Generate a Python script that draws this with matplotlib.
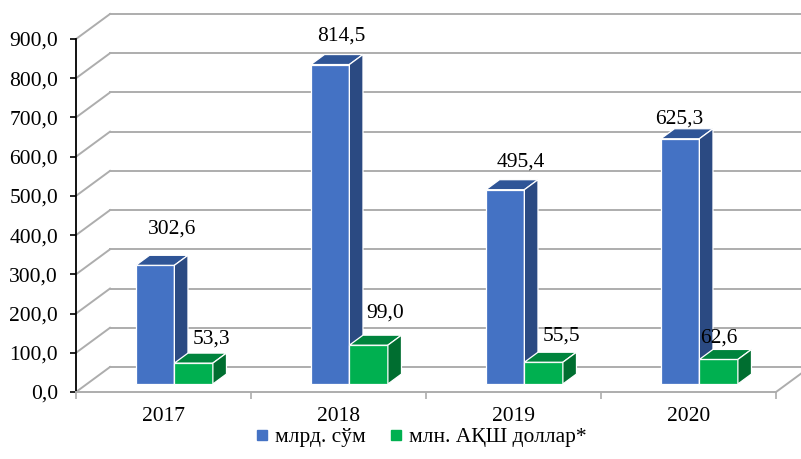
import matplotlib
matplotlib.use("Agg")
import matplotlib.pyplot as plt
from matplotlib.patches import Polygon
from matplotlib.lines import Line2D

# data
years = ["2017", "2018", "2019", "2020"]
som_bln = [302.6, 814.5, 495.4, 625.3]
usd_mln = [53.3, 99.0, 55.5, 62.6]
series_names = ["млрд. сўм", "млн. АҚШ доллар*"]
y_ticks = [0, 100, 200, 300, 400, 500, 600, 700, 800, 900]

# label nudges in pixels (dx, dy above front top)
som_label_off = [(17, 36), (11, 28), (16, 28), (-1, 20)]
usd_label_off = [(18, 24), (16, 32), (18, 26), (0, 21)]

plt.rcParams["font.family"] = ["Liberation Serif", "DejaVu Serif"]
FS = 15.5

W_PX, H_PX = 801, 459
fig = plt.figure(figsize=(W_PX / 100, H_PX / 100), dpi=100)
ax = fig.add_axes([76 / W_PX, (H_PX - 392) / H_PX, 700 / W_PX, 353 / H_PX])
ax.set_xlim(0, len(years))
ax.set_ylim(0, 900)

# pixel -> data scale
px_x = len(years) / 700.0
px_y = 900 / 353.0
DX = 34 * px_x          # full floor depth, x
DY = 25 * px_y          # full floor depth, y
D0, DD = 0.32, 0.40     # bar front depth and bar thickness (fractions)
BW = 0.22               # bar width in category units

grid_c = "#ADADAD"
# back wall + left wall gridlines
for v in y_ticks:
    ax.plot([DX, len(years) + DX], [v + DY, v + DY], color=grid_c, lw=1.4,
            clip_on=False, zorder=1)
    ax.plot([0, DX], [v, v + DY], color=grid_c, lw=1.4, clip_on=False, zorder=1)
# floor edges
ax.plot([len(years), len(years) + DX], [0, DY], color=grid_c, lw=1.4,
        clip_on=False, zorder=1)


def draw_bar(left, val, front, top, side):
    x0 = left + D0 * DX
    y0 = D0 * DY
    ddx, ddy = DD * DX, DD * DY
    faces = [
        ([(x0, y0), (x0 + BW, y0), (x0 + BW, y0 + val), (x0, y0 + val)], front),
        ([(x0, y0 + val), (x0 + BW, y0 + val), (x0 + BW + ddx, y0 + val + ddy),
          (x0 + ddx, y0 + val + ddy)], top),
        ([(x0 + BW, y0), (x0 + BW + ddx, y0 + ddy), (x0 + BW + ddx, y0 + val + ddy),
          (x0 + BW, y0 + val)], side),
    ]
    for pts, c in faces:
        ax.add_patch(Polygon(pts, closed=True, facecolor=c, edgecolor="white",
                             lw=0.9, clip_on=False, zorder=3))
    return x0 + BW / 2, y0 + val


blue = ("#4472C4", "#2F5597", "#2B4A82")
green = ("#00B050", "#00843D", "#006E30")

for i, yr in enumerate(years):
    c = i + 0.5
    bx, by = draw_bar(c - BW, som_bln[i], *blue)
    gx, gy = draw_bar(c, usd_mln[i], *green)
    for (x, y), v, (ox, oy) in [((bx, by), som_bln[i], som_label_off[i]),
                                ((gx, gy), usd_mln[i], usd_label_off[i])]:
        ax.annotate(f"{v:.1f}".replace(".", ","), (x, y),
                    xytext=(ox * 0.72, oy * 0.72), textcoords="offset points",
                    ha="center", va="center", fontsize=FS, zorder=5,
                    annotation_clip=False)

# axes styling
for s in ["top", "right"]:
    ax.spines[s].set_visible(False)
ax.spines["left"].set_color("black")
ax.spines["left"].set_linewidth(1.3)
ax.spines["bottom"].set_color(grid_c)
ax.spines["bottom"].set_linewidth(1.4)
ax.patch.set_alpha(0)

ax.set_yticks(y_ticks)
ax.set_yticklabels([f"{v:.1f}".replace(".", ",") for v in y_ticks], fontsize=FS)
ax.tick_params(axis="y", length=4, width=1.2, pad=9, color="black")

ax.set_xticks(range(len(years) + 1))
ax.set_xticklabels([])
ax.set_xticks([i + 0.5 for i in range(len(years))], minor=True)
ax.set_xticklabels(years, minor=True, fontsize=FS)
ax.tick_params(axis="x", which="major", length=5, color=grid_c, width=1.2)
ax.tick_params(axis="x", which="minor", length=0, pad=11)

handles = [Line2D([], [], marker="s", ls="", color=blue[0], markersize=7),
           Line2D([], [], marker="s", ls="", color=green[0], markersize=7)]
fig.legend(handles, series_names, loc="center", bbox_to_anchor=(420 / W_PX, 22 / H_PX),
           ncol=2, frameon=False, fontsize=FS, handletextpad=0.2,
           columnspacing=1.0, handlelength=0.8)

fig.savefig("out.png", dpi=100)
